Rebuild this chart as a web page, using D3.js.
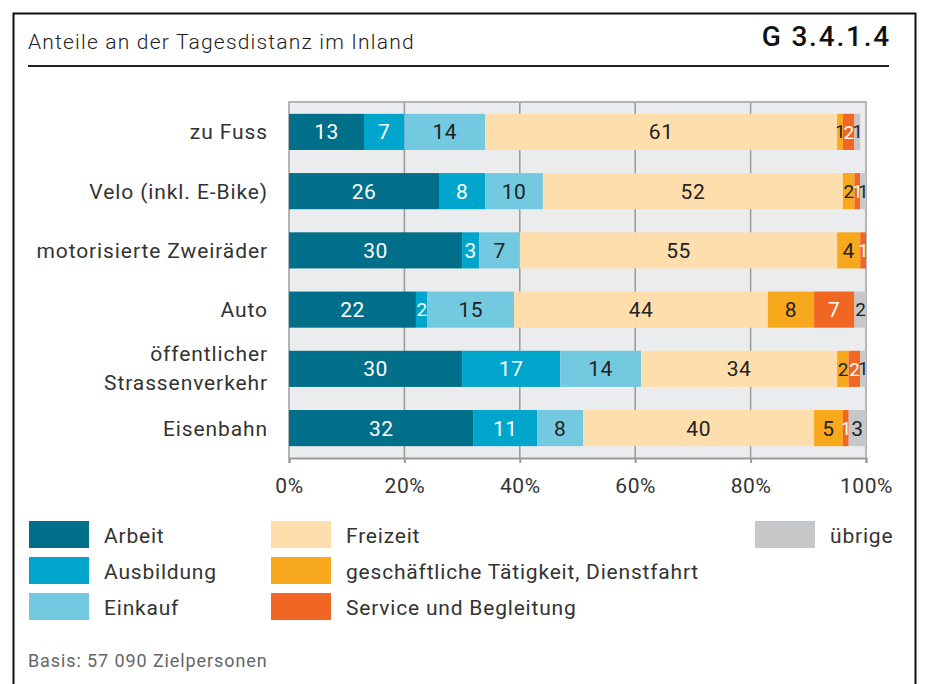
<!DOCTYPE html>
<html>
<head>
<meta charset="utf-8">
<script src="https://cdn.jsdelivr.net/npm/d3@7"></script>
<style>
  body { margin: 0; background: #fff; }
  svg { font-family: Roboto, "Noto Sans", sans-serif; }
</style>
</head>
<body>
<svg id="chart" width="931" height="684"></svg>
<script>
// Kategorien (Verkehrsmittel)
const categories = [
  ["zu Fuss"],
  ["Velo (inkl. E-Bike)"],
  ["motorisierte Zweiräder"],
  ["Auto"],
  ["öffentlicher", "Strassenverkehr"],
  ["Eisenbahn"]
];
// Verkehrszwecke
const purposes = ["Arbeit", "Ausbildung", "Einkauf", "Freizeit",
  "geschäftliche Tätigkeit, Dienstfahrt", "Service und Begleitung", "übrige"];
const colors = ["#006f8a", "#00a5cc", "#73c9e0", "#fddeac", "#f8a81c", "#f26624", "#c6c7c9"];
const labelColors = ["#fff", "#fff", "#222", "#222", "#222", "#fff", "#222"];
// Werte in %, je Kategorie
const arbeit      = [13, 26, 30, 22, 30, 32];
const ausbildung  = [7, 8, 3, 2, 17, 11];
const einkauf     = [14, 10, 7, 15, 14, 8];
const freizeit    = [61, 52, 55, 44, 34, 40];
const geschaeft   = [1, 2, 4, 8, 2, 5];
const service     = [2, 1, 1, 7, 2, 1];
const uebrige     = [1, 1, 0, 2, 1, 3];
const ticks = [0, 20, 40, 60, 80, 100];

const series = [arbeit, ausbildung, einkauf, freizeit, geschaeft, service, uebrige];

const svg = d3.select("#chart");

// Rahmen
svg.append("rect").attr("x", 13.5).attr("y", 13.5).attr("width", 902).attr("height", 690)
  .attr("fill", "none").attr("stroke", "#111").attr("stroke-width", 2);

// Titel
svg.append("text").attr("x", 28).attr("y", 49).attr("font-size", 21).attr("font-weight", 300)
  .attr("letter-spacing", 1.2).attr("fill", "#222")
  .text("Anteile an der Tagesdistanz im Inland");
svg.append("text").attr("x", 891).attr("y", 46).attr("text-anchor", "end")
  .attr("font-size", 28).attr("font-weight", 500).attr("letter-spacing", 1.8)
  .attr("fill", "#111").text("G 3.4.1.4");
svg.append("line").attr("x1", 28).attr("x2", 889).attr("y1", 66).attr("y2", 66)
  .attr("stroke", "#222").attr("stroke-width", 2);

const pLeft = 289, pRight = 866, pTop = 102, pBottom = 458;
const x = d3.scaleLinear().domain([0, 100]).range([pLeft, pRight]);
const y = d3.scaleBand().domain(d3.range(categories.length)).range([pTop, pBottom])
  .paddingInner(0.39).paddingOuter(0.2);

// Hintergrund
svg.append("rect").attr("x", pLeft).attr("y", pTop).attr("width", pRight - pLeft).attr("height", pBottom - pTop)
  .attr("fill", "#ebecee");

// Gitterlinien
svg.append("g").selectAll("line").data(ticks.slice(1, -1)).join("line")
  .attr("x1", d => x(d)).attr("x2", d => x(d)).attr("y1", pTop).attr("y2", pBottom)
  .attr("stroke", "#9a9a9a").attr("stroke-width", 1.5);

// Rahmen Plotbereich
svg.append("path")
  .attr("d", `M${pLeft},${pBottom}V${pTop}H${pRight}V${pBottom}`)
  .attr("fill", "none").attr("stroke", "#b4b4b4").attr("stroke-width", 2);

// Balken
const stacked = categories.map((c, i) => {
  let acc = 0;
  return series.map((s, k) => {
    const seg = { cat: i, k, v: s[i], x0: acc, x1: acc + s[i] };
    acc += s[i];
    return seg;
  });
}).flat().filter(d => d.v > 0);

svg.append("g").selectAll("rect").data(stacked).join("rect")
  .attr("x", d => x(d.x0)).attr("y", d => y(d.cat))
  .attr("width", d => x(d.x1) - x(d.x0)).attr("height", y.bandwidth())
  .attr("fill", d => colors[d.k]);

svg.append("g").selectAll("text").data(stacked).join("text")
  .attr("x", d => (x(d.x0) + x(d.x1)) / 2).attr("y", d => y(d.cat) + y.bandwidth() / 2)
  .attr("dy", "0.36em").attr("text-anchor", "middle")
  .attr("font-size", d => d.v < 2 ? 18 : d.v < 3 ? 19 : 21)
  .attr("letter-spacing", d => d.v < 3 ? -0.5 : 0.5)
  .attr("fill", d => labelColors[d.k])
  .text(d => d.v);

// Achse unten
const axis = svg.append("g").attr("transform", `translate(0,${pBottom})`)
  .call(d3.axisBottom(x).tickValues(ticks).tickFormat(d => d + "%").tickSize(5).tickPadding(15));
axis.select(".domain").attr("stroke", "#9a9a9a").attr("stroke-width", 2);
axis.selectAll(".tick line").attr("stroke", "#9a9a9a").attr("stroke-width", 2);
axis.selectAll(".tick text").attr("font-size", 21).attr("letter-spacing", 0.6).attr("fill", "#333")
  .attr("font-family", "Roboto, sans-serif");

// Kategorienbeschriftung
const cat = svg.append("g").selectAll("text").data(categories).join("text")
  .attr("x", 268).attr("text-anchor", "end").attr("font-size", 21).attr("letter-spacing", 0.9)
  .attr("fill", "#333")
  .attr("y", (d, i) => y(i) + y.bandwidth() / 2 - (d.length - 1) * 15);
cat.selectAll("tspan").data(d => d).join("tspan")
  .attr("x", 268).attr("dy", (d, j) => j === 0 ? "0.36em" : 29).text(d => d);

// Legende
const legendPos = [
  [29, 521], [29, 557], [29, 593],
  [271, 521], [271, 557], [271, 593],
  [755, 521]
];
const lg = svg.append("g").selectAll("g").data(purposes).join("g")
  .attr("transform", (d, i) => `translate(${legendPos[i][0]},${legendPos[i][1]})`);
lg.append("rect").attr("width", 60).attr("height", 27).attr("fill", (d, i) => colors[i]);
lg.append("text").attr("x", 75).attr("y", 14).attr("dy", "0.36em")
  .attr("font-size", 21).attr("letter-spacing", 0.8).attr("fill", "#333").text(d => d);

// Fussnote
svg.append("text").attr("x", 28).attr("y", 667).attr("font-size", 18).attr("letter-spacing", 0.9)
  .attr("fill", "#666").text("Basis: 57 090 Zielpersonen");
</script>
</body>
</html>
